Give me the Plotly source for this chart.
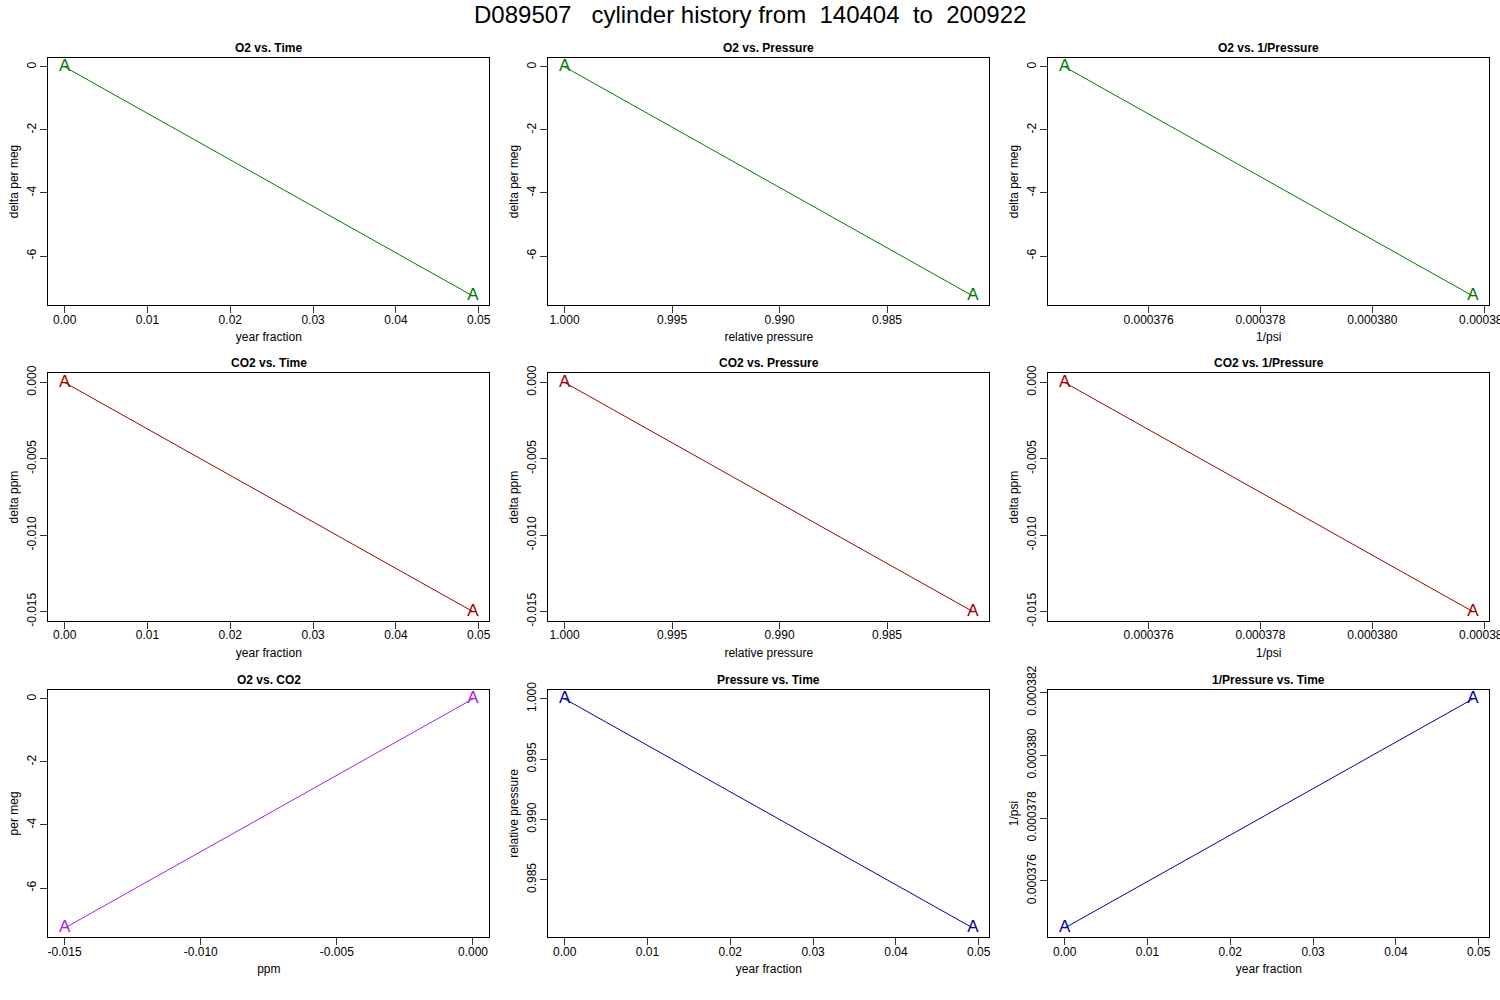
import plotly.graph_objects as go

# ---------------- data ----------------
time_frac = [0.0, 0.0493]
o2_permeg = [0.0, -7.27]
co2_ppm = [0.0, -0.0150]
rel_pressure = [1.0, 0.9810]
inv_psi = [0.0003745, 0.0003818]
point_labels = ["A", "A"]

time_ticks = [0.00, 0.01, 0.02, 0.03, 0.04, 0.05]
o2_ticks = [0, -2, -4, -6]
co2_ticks = [0.000, -0.005, -0.010, -0.015]
pressure_ticks = [1.000, 0.995, 0.990, 0.985]
inv_psi_ticks = [0.000376, 0.000378, 0.000380, 0.000382]

main_title = "D089507   cylinder history from  140404  to  200922"

GREEN = "#007A00"
RED = "#A00000"
PURPLE = "#A020F0"
BLUE = "#0000A0"

# (title, x, y, xticks, xfmt, xlabel, yticks, yfmt, ylabel, color, reverse_x)
panels = [
    ("O2 vs. Time", time_frac, o2_permeg, time_ticks, "%.2f", "year fraction", o2_ticks, "%d", "delta per meg", GREEN, False),
    ("O2 vs. Pressure", rel_pressure, o2_permeg, pressure_ticks, "%.3f", "relative pressure", o2_ticks, "%d", "delta per meg", GREEN, True),
    ("O2 vs. 1/Pressure", inv_psi, o2_permeg, inv_psi_ticks, "%.6f", "1/psi", o2_ticks, "%d", "delta per meg", GREEN, False),
    ("CO2 vs. Time", time_frac, co2_ppm, time_ticks, "%.2f", "year fraction", co2_ticks, "%.3f", "delta ppm", RED, False),
    ("CO2 vs. Pressure", rel_pressure, co2_ppm, pressure_ticks, "%.3f", "relative pressure", co2_ticks, "%.3f", "delta ppm", RED, True),
    ("CO2 vs. 1/Pressure", inv_psi, co2_ppm, inv_psi_ticks, "%.6f", "1/psi", co2_ticks, "%.3f", "delta ppm", RED, False),
    ("O2 vs. CO2", co2_ppm, o2_permeg, co2_ticks, "%.3f", "ppm", o2_ticks, "%d", "per meg", PURPLE, False),
    ("Pressure vs. Time", time_frac, rel_pressure, time_ticks, "%.2f", "year fraction", pressure_ticks, "%.3f", "relative pressure", BLUE, False),
    ("1/Pressure vs. Time", time_frac, inv_psi, time_ticks, "%.2f", "year fraction", inv_psi_ticks, "%.6f", "1/psi", BLUE, False),
]

W, H = 1500, 1000
col_left = [48.3, 548.3, 1048.3]
box_w = 441.0
row_top = [57.7, 373.3, 689.7]
box_h = 247.5

FONT = "Liberation Sans, Arial, Helvetica, sans-serif"


def ext_range(vals, reverse=False):
    lo, hi = min(vals), max(vals)
    d = hi - lo
    r = [lo - 0.04 * d, hi + 0.04 * d]
    return r[::-1] if reverse else r


fig = go.Figure()
annotations = []
layout_axes = {}

for i, (title, xs, ys, xt, xf, xl, yt, yf, yl, col, rev) in enumerate(panels):
    r, c = divmod(i, 3)
    n = i + 1
    xname = "x" if n == 1 else f"x{n}"
    yname = "y" if n == 1 else f"y{n}"
    fig.add_trace(go.Scatter(
        x=xs, y=ys, mode="lines+text", text=point_labels,
        textposition="middle center",
        textfont=dict(family=FONT, size=17, color=col),
        line=dict(color=col, width=1),
        xaxis=xname, yaxis=yname, showlegend=False, hoverinfo="skip",
        cliponaxis=False,
    ))
    x0 = col_left[c] / W
    x1 = (col_left[c] + box_w) / W
    y1 = 1 - row_top[r] / H
    y0 = 1 - (row_top[r] + box_h) / H
    common = dict(
        showgrid=False, zeroline=False, showline=True, mirror=True,
        linecolor="black", linewidth=1, ticks="outside", ticklen=7,
        tickcolor="#333333", tickwidth=1,
        tickfont=dict(family=FONT, size=12, color="black"),
        automargin=False, ticklabeloverflow="allow",
    )
    layout_axes["xaxis" if n == 1 else f"xaxis{n}"] = dict(
        common, domain=[x0, x1], anchor=yname, range=ext_range(xs, rev),
        tickmode="array", tickvals=xt, ticktext=[xf % v for v in xt],
        ticklabelstandoff=-4,
        title=dict(text=xl, font=dict(family=FONT, size=12, color="black"), standoff=7),
    )
    layout_axes["yaxis" if n == 1 else f"yaxis{n}"] = dict(
        common, domain=[y0, y1], anchor=xname, range=ext_range(ys),
        tickmode="array", tickvals=yt, ticktext=[yf % v for v in yt],
        tickangle=-90,
        title=dict(text=yl, font=dict(family=FONT, size=12, color="black"), standoff=3),
    )
    annotations.append(dict(
        text=f"<b>{title}</b>", x=(x0 + x1) / 2, y=1 - (row_top[r] - 10) / H,
        xref="paper", yref="paper", showarrow=False,
        xanchor="center", yanchor="middle",
        font=dict(family=FONT, size=12, color="black"),
    ))

annotations.append(dict(
    text=main_title.replace(" ", "\u00a0"), x=0.5, y=1 - 14 / H,
    xref="paper", yref="paper", showarrow=False,
    xanchor="center", yanchor="middle",
    font=dict(family=FONT, size=24, color="black"),
))

fig.update_layout(
    width=W, height=H,
    margin=dict(l=0, r=0, t=0, b=0),
    paper_bgcolor="white", plot_bgcolor="white",
    annotations=annotations,
    **layout_axes,
)

fig.write_html(
    "out.html",
    config={"displayModeBar": False},
    post_script="document.body.style.margin='0';document.body.style.overflow='hidden';",
)
